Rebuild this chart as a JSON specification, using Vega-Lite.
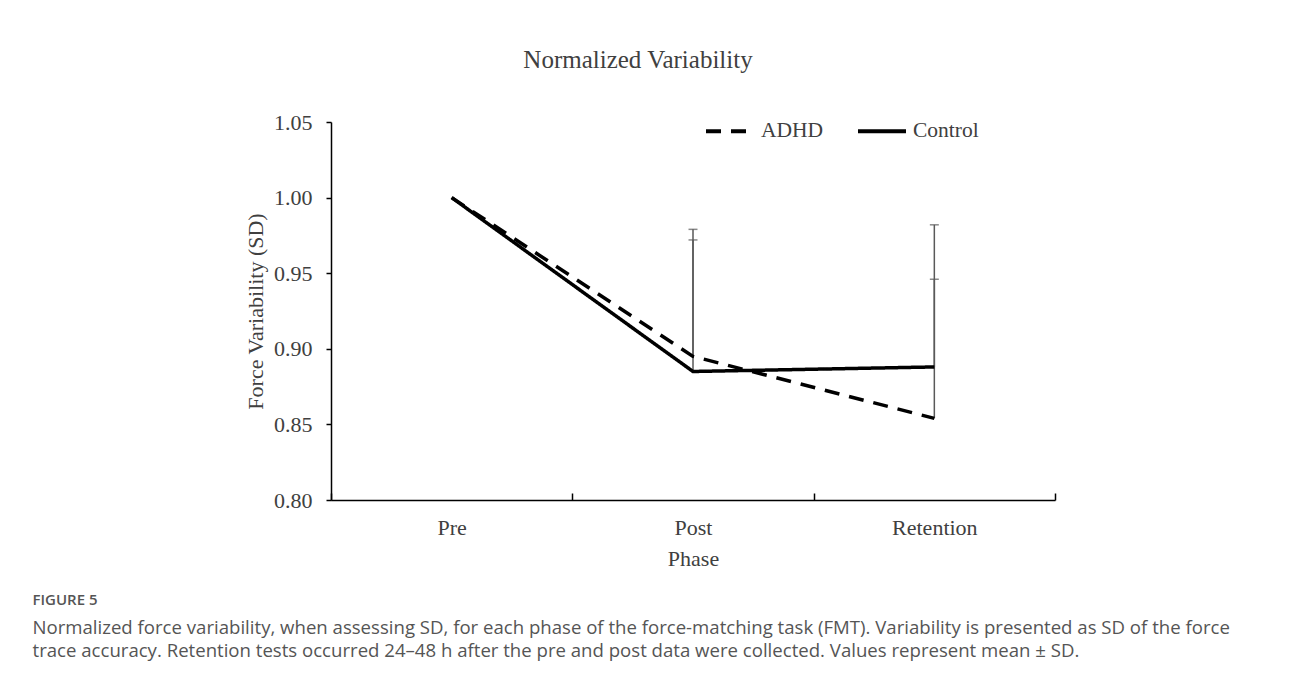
{
  "$schema": "https://vega.github.io/schema/vega-lite/v6.json",
  "background": "white",
  "padding": {"left": 32, "top": 48, "right": 10, "bottom": 10},
  "title": {
    "text": "FIGURE 5",
    "subtitle": [
      "Normalized force variability, when assessing SD, for each phase of the force-matching task (FMT). Variability is presented as SD of the force",
      "trace accuracy. Retention tests occurred 24–48 h after the pre and post data were collected. Values represent mean ± SD."
    ],
    "orient": "bottom",
    "anchor": "start",
    "dx": -212,
    "offset": 24,
    "font": "Open Sans",
    "fontSize": 15,
    "fontWeight": 600,
    "color": "#555555",
    "subtitleFont": "Open Sans",
    "subtitleFontSize": 18.6,
    "subtitleColor": "#555555",
    "subtitleLineHeight": 23,
    "subtitlePadding": 11
  },
  "datasets": {
    "means": [
      {"phase": "Pre", "group": "ADHD", "value": 1.0},
      {"phase": "Post", "group": "ADHD", "value": 0.895},
      {"phase": "Retention", "group": "ADHD", "value": 0.854},
      {"phase": "Pre", "group": "Control", "value": 1.0},
      {"phase": "Post", "group": "Control", "value": 0.885},
      {"phase": "Retention", "group": "Control", "value": 0.888}
    ],
    "errors": [
      {"phase": "Post", "group": "ADHD", "value": 0.895, "upper": 0.972},
      {"phase": "Post", "group": "Control", "value": 0.885, "upper": 0.979},
      {"phase": "Retention", "group": "ADHD", "value": 0.854, "upper": 0.982},
      {"phase": "Retention", "group": "Control", "value": 0.888, "upper": 0.946}
    ]
  },
  "vconcat": [
    {
      "width": 724,
      "height": 378,
      "title": {
        "text": "Normalized Variability",
        "frame": "group",
        "anchor": "middle",
        "dx": -55,
        "font": "Liberation Serif",
        "fontSize": 25,
        "fontWeight": "normal",
        "color": "#404040",
        "offset": 38
      },
      "encoding": {
        "x": {
          "field": "phase",
          "type": "nominal",
          "sort": ["Pre", "Post", "Retention"],
          "scale": {"domain": ["Pre", "Post", "Retention"], "paddingInner": 0, "paddingOuter": 0},
          "axis": {
            "title": "Phase",
            "labelAngle": 0,
            "tickBand": "extent",
            "tickSize": -7,
            "labelPadding": 24,
            "titlePadding": 10
          }
        }
      },
      "layer": [
        {
          "data": {"name": "errors"},
          "mark": {"type": "rule", "color": "#595959", "strokeWidth": 1.5},
          "encoding": {
            "y": {"field": "value", "type": "quantitative"},
            "y2": {"field": "upper"}
          }
        },
        {
          "data": {"name": "errors"},
          "mark": {"type": "tick", "color": "#595959", "thickness": 1.5, "size": 9, "orient": "horizontal"},
          "encoding": {
            "y": {"field": "upper", "type": "quantitative"}
          }
        },
        {
          "data": {"name": "means"},
          "mark": {"type": "line", "color": "black", "strokeWidth": 3.5},
          "encoding": {
            "y": {
              "field": "value",
              "type": "quantitative",
              "scale": {"domain": [0.8, 1.05], "zero": false, "nice": false},
              "axis": {
                "title": "Force Variability (SD)",
                "values": [0.8, 0.85, 0.9, 0.95, 1.0, 1.05],
                "format": ".2f",
                "tickSize": 5,
                "labelPadding": 14,
                "titlePadding": 6,
                "grid": false
              }
            },
            "strokeDash": {
              "field": "group",
              "type": "nominal",
              "scale": {"domain": ["ADHD", "Control"], "range": [[15, 10], [1, 0]]},
              "legend": {
                "title": null,
                "orient": "none",
                "direction": "horizontal",
                "legendX": 373,
                "legendY": -17,
                "symbolType": "stroke",
                "symbolSize": 2304,
                "symbolStrokeWidth": 4,
                "symbolStrokeColor": "black",
                "labelFont": "Liberation Serif",
                "labelFontSize": 21.5,
                "labelColor": "#404040",
                "labelOffset": 5,
                "columnPadding": 26
              }
            }
          }
        }
      ]
    }
  ],
  "config": {
    "view": {"stroke": null},
    "axis": {
      "labelFont": "Liberation Serif",
      "labelFontSize": 22,
      "labelColor": "#404040",
      "titleFont": "Liberation Serif",
      "titleFontSize": 22,
      "titleFontWeight": "normal",
      "titleColor": "#404040",
      "domainColor": "black",
      "domainWidth": 1.5,
      "tickColor": "black",
      "tickWidth": 1.5,
      "grid": false
    }
  }
}
